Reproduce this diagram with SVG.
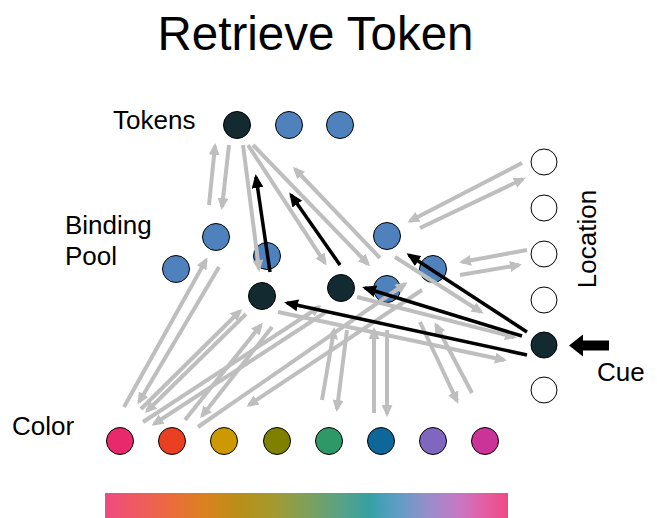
<svg xmlns="http://www.w3.org/2000/svg" width="657" height="518" viewBox="0 0 657 518">
<style>
text{font-family:"Liberation Sans",Arial,Helvetica,sans-serif;fill:#000}
.lbl{font-size:26px}
.title{font-size:47.5px}
.n{stroke:#000;stroke-width:1}
.blue{fill:#4F81BD}
.dark{fill:#132A31}
.loc{fill:#fff}
.g{stroke:#BEBEBE;stroke-width:4;fill:none;marker-end:url(#ag)}
.b{stroke:#000;stroke-width:3.5;fill:none;marker-end:url(#ab)}
</style>
<defs>
<marker id="ag" markerUnits="userSpaceOnUse" markerWidth="12" markerHeight="11" refX="9" refY="5.5" orient="auto"><path d="M0,0 L12,5.5 L0,11 z" fill="#BEBEBE"/></marker>
<marker id="ab" markerUnits="userSpaceOnUse" markerWidth="14" markerHeight="12" refX="11" refY="6" orient="auto"><path d="M0,0 L14,6 L0,12 z" fill="#000"/></marker>
<linearGradient id="spec" x1="0" y1="0" x2="1" y2="0">
<stop offset="0" stop-color="#EE4B80"/>
<stop offset="0.08" stop-color="#EE5A60"/>
<stop offset="0.16" stop-color="#EC6A3E"/>
<stop offset="0.25" stop-color="#D98220"/>
<stop offset="0.33" stop-color="#B98F18"/>
<stop offset="0.42" stop-color="#A39A30"/>
<stop offset="0.5" stop-color="#7EA058"/>
<stop offset="0.58" stop-color="#5AA283"/>
<stop offset="0.66" stop-color="#35A1A4"/>
<stop offset="0.72" stop-color="#5A9EC4"/>
<stop offset="0.8" stop-color="#978ECB"/>
<stop offset="0.88" stop-color="#C877C4"/>
<stop offset="0.94" stop-color="#E35EA4"/>
<stop offset="1" stop-color="#EE4A84"/>
</linearGradient>
</defs>
<rect width="657" height="518" fill="#fff"/>
<text class="title" x="315.5" y="50" text-anchor="middle">Retrieve Token</text>
<g id="labels">
<text class="lbl" x="113" y="129">Tokens</text>
<text class="lbl" x="65" y="234">Binding</text>
<text class="lbl" x="65" y="265">Pool</text>
<text class="lbl" x="12" y="435">Color</text>
<text class="lbl" x="597" y="381">Cue</text>
<text class="lbl" transform="translate(596,239) rotate(-90)" text-anchor="middle">Location</text>
</g>
<g id="tokens">
<circle id="token1" class="n dark" cx="237" cy="125" r="13.5"/>
<circle id="token2" class="n blue" cx="289" cy="125" r="13.5"/>
<circle id="token3" class="n blue" cx="340" cy="125" r="13.5"/>
</g>
<g id="binding-pool">
<circle id="bp1" class="n blue" cx="216" cy="237" r="13.5"/>
<circle id="bp2" class="n blue" cx="176" cy="269" r="13.5"/>
<circle id="bp3" class="n blue" cx="267" cy="256" r="13.5"/>
<circle id="bp4" class="n dark" cx="262" cy="296" r="13.5"/>
<circle id="bp5" class="n dark" cx="341" cy="288" r="13.5"/>
<circle id="bp6" class="n blue" cx="387" cy="236" r="13.5"/>
<circle id="bp7" class="n blue" cx="433" cy="269" r="13.5"/>
<circle id="bp8" class="n blue" cx="387" cy="289" r="13.5"/>
</g>
<g id="location">
<circle id="loc1" class="n loc" cx="544" cy="162" r="13"/>
<circle id="loc2" class="n loc" cx="544" cy="208" r="13"/>
<circle id="loc3" class="n loc" cx="544" cy="254" r="13"/>
<circle id="loc4" class="n loc" cx="544" cy="300" r="13"/>
<circle id="loc5" class="n dark" cx="544" cy="345" r="13"/>
<circle id="loc6" class="n loc" cx="544" cy="390" r="13"/>
</g>
<g id="colors">
<circle id="c1" class="n" fill="#E8296B" cx="120" cy="441" r="13.5"/>
<circle id="c2" class="n" fill="#E84020" cx="172" cy="441" r="13.5"/>
<circle id="c3" class="n" fill="#CC9900" cx="224" cy="441" r="13.5"/>
<circle id="c4" class="n" fill="#808000" cx="277" cy="441" r="13.5"/>
<circle id="c5" class="n" fill="#2E9966" cx="329" cy="441" r="13.5"/>
<circle id="c6" class="n" fill="#0E6699" cx="381" cy="441" r="13.5"/>
<circle id="c7" class="n" fill="#7F66BF" cx="433" cy="441" r="13.5"/>
<circle id="c8" class="n" fill="#CC3399" cx="485" cy="441" r="13.5"/>
</g>
<g id="spectrum"><rect x="105" y="493" width="403" height="25" fill="url(#spec)"/></g>
<g id="connectors">
<line class="g" x1="209" y1="205" x2="215" y2="146"/>
<line class="g" x1="229" y1="145" x2="222" y2="207"/>
<line class="g" x1="243" y1="145" x2="259" y2="269"/>
<line class="g" x1="248" y1="145" x2="325" y2="263"/>
<line class="g" x1="253" y1="145" x2="368" y2="264"/>
<line class="g" x1="380" y1="258" x2="295" y2="169"/>
<line class="g" x1="522" y1="163" x2="410" y2="221"/>
<line class="g" x1="420" y1="228" x2="523" y2="179"/>
<line class="g" x1="527" y1="250" x2="462" y2="262"/>
<line class="g" x1="460" y1="275" x2="519" y2="265"/>
<line class="g" x1="395" y1="257" x2="481" y2="312"/>
<line class="g" x1="357" y1="297" x2="514" y2="337"/>
<line class="g" x1="278" y1="312" x2="504" y2="360"/>
<line class="g" x1="420" y1="322" x2="457" y2="401"/>
<line class="g" x1="472" y1="393" x2="436" y2="325"/>
<line class="g" x1="387" y1="330" x2="387" y2="414"/>
<line class="g" x1="374" y1="413" x2="374" y2="330"/>
<line class="g" x1="322" y1="400" x2="334" y2="330"/>
<line class="g" x1="347" y1="330" x2="337" y2="409"/>
<line class="g" x1="124" y1="407" x2="206" y2="260"/>
<line class="g" x1="219" y1="267" x2="139" y2="402"/>
<line class="g" x1="141" y1="409" x2="240" y2="311"/>
<line class="g" x1="246" y1="314" x2="147" y2="411"/>
<line class="g" x1="185" y1="420" x2="261" y2="325"/>
<line class="g" x1="272" y1="327" x2="202" y2="416"/>
<line class="g" x1="143" y1="422" x2="319" y2="307"/>
<line class="g" x1="326" y1="312" x2="154" y2="424"/>
<line class="g" x1="198" y1="427" x2="405" y2="284"/>
<line class="g" x1="422" y1="290" x2="249" y2="405"/>
<line class="b" x1="270" y1="272" x2="256" y2="177"/>
<line class="b" x1="340" y1="265" x2="291" y2="195"/>
<line class="b" x1="527" y1="332" x2="409" y2="255"/>
<line class="b" x1="522" y1="336" x2="365" y2="288"/>
<line class="b" x1="527" y1="355" x2="287" y2="303"/>
</g>
<g id="cue-arrow"><polygon points="569,345.5 583,334.5 583,340.5 609,340.5 609,350.5 583,350.5 583,356.5" fill="#000"/></g>
</svg>
